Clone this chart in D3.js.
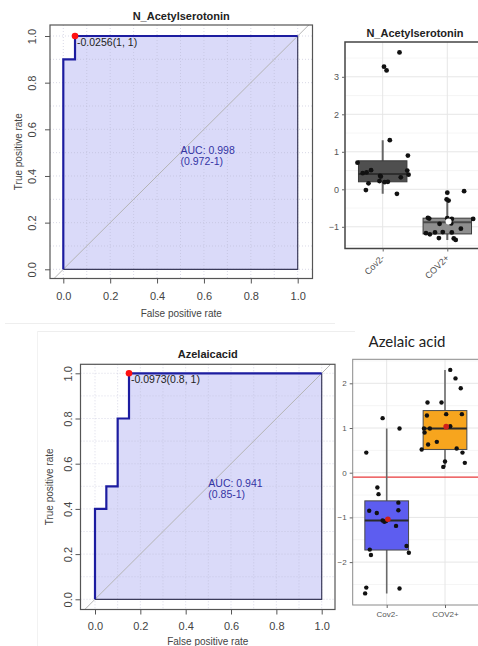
<!DOCTYPE html>
<html>
<head>
<meta charset="utf-8">
<script src="https://cdn.jsdelivr.net/npm/d3@7/dist/d3.min.js"></script>
<style>
  body { margin: 0; background: #fff; }
  svg { display: block; }
</style>
</head>
<body>
<svg id="fig" width="478" height="646"></svg>
<script>
// ---------- ROC curves ----------
const rocTicks = [0, 0.2, 0.4, 0.6, 0.8, 1];
const rocGrid = d3.range(0, 11).map(i => i / 10);

const nasTitle = "N_Acetylserotonin";
const nasFpr = [0, 0, 0.05, 0.05, 1];
const nasTpr = [0, 0.9, 0.9, 1, 1];
const nasCut = [0.05, 1];
const nasCutLabel = "-0.0256(1, 1)";
const nasAuc = ["AUC: 0.998", "(0.972-1)"];

const azTitle = "Azelaicacid";
const azFpr = [0, 0, 0.05, 0.05, 0.1, 0.1, 0.15, 0.15, 1];
const azTpr = [0, 0.4, 0.4, 0.5, 0.5, 0.8, 0.8, 1, 1];
const azCut = [0.15, 1];
const azCutLabel = "-0.0973(0.8, 1)";
const azAuc = ["AUC: 0.941", "(0.85-1)"];

// ---------- Box plots ----------
const groups = ["Cov2-", "COV2+"];

// box stats per group: [lower whisker, Q1, median, Q3, upper whisker]
const nasStats = [[-0.12, 0.20, 0.41, 0.76, 1.31], [-1.35, -1.19, -0.88, -0.77, -0.30]];
const nasValues = [
  [3.65, 3.27, 3.17, 1.31, 0.90, 0.71, 0.43, 0.45, 0.51, 0.36, 0.34, 0.16, -0.02, 0.22, 0.19, 0.20, 0.32, 0.50, 0.39, -0.12],
  [-0.09, -0.05, -0.27, -0.30, -0.76, -0.78, -0.77, -0.79, -0.79, -0.92, -0.91, -1.05, -1.17, -1.20, -1.15, -1.30, -1.14, -1.15, -1.31, -1.35]
];
// horizontal jitter, in category widths
const nasJitter = [
  [0.26, 0.02, 0.06, 0.11, 0.39, -0.39, -0.31, -0.25, -0.18, -0.04, -0.03, -0.22, -0.26, -0.05, 0.03, 0.08, 0.28, 0.38, 0.40, 0.22],
  [0.00, 0.26, -0.01, 0.02, -0.30, -0.28, 0.00, 0.07, 0.40, -0.12, 0.06, 0.21, -0.33, -0.27, -0.19, -0.13, -0.07, 0.07, 0.10, 0.13]
];
const nasMeans = [null, -0.86];
const nasTicks = [-1, 0, 1, 2, 3];

const azBoxTitle = "Azelaic acid";
const azStats = [[-2.70, -1.73, -1.07, -0.63, 0.99], [0.13, 0.52, 0.99, 1.39, 2.30]];
const azValues = [
  [1.22, 0.99, 0.45, -0.33, -0.48, -0.85, -0.90, -0.67, -0.84, -1.07, -1.10, -1.08, -1.19, -1.72, -1.84, -1.64, -1.79, -2.57, -2.70, -2.59],
  [2.30, 2.11, 1.89, 1.57, 1.57, 1.28, 1.31, 1.31, 0.99, 0.99, 1.04, 0.90, 0.63, 0.69, 0.52, 0.54, 0.45, 0.22, 0.25, 0.13]
];
const azJitter = [
  [-0.07, 0.22, -0.35, -0.16, -0.14, -0.30, -0.17, 0.20, 0.20, -0.07, -0.04, -0.01, 0.16, -0.29, -0.27, 0.34, 0.38, -0.35, -0.37, 0.22],
  [0.09, 0.18, 0.27, -0.30, -0.06, -0.31, 0.02, 0.29, -0.36, -0.26, 0.09, -0.35, -0.29, -0.14, -0.40, 0.20, 0.30, 0.34, 0.00, -0.03]
];
const azMeans = [-1.04, 1.03];
const azCutoff = -0.0973;
const azTicks = [-2, -1, 0, 1, 2];

const svg = d3.select("#fig");
const FONT = "'Liberation Sans', Arial, Helvetica, sans-serif";

// faint outlines of the figure tiles
svg.append("line").attr("x1", 5).attr("x2", 335).attr("y1", 323.5).attr("y2", 323.5)
  .attr("stroke", "#eeeeee");
svg.append("line").attr("x1", 37).attr("x2", 355).attr("y1", 331.5).attr("y2", 331.5)
  .attr("stroke", "#eeeeee");
svg.append("line").attr("x1", 37.5).attr("x2", 37.5).attr("y1", 331).attr("y2", 646)
  .attr("stroke", "#f2f2f2");

function rocPanel(o) {
  const g = svg.append("g");
  const x = d3.scaleLinear().domain([0, 1]).range(o.xr);
  const y = d3.scaleLinear().domain([0, 1]).range(o.yr);
  const f = o.frame;
  const clipId = "clip" + o.id;
  g.append("clipPath").attr("id", clipId).append("rect")
    .attr("x", f.l).attr("y", f.t).attr("width", f.r - f.l).attr("height", f.b - f.t);

  const inner = g.append("g").attr("clip-path", `url(#${clipId})`);

  // area under the curve
  const pts = o.fpr.map((v, i) => [x(v), y(o.tpr[i])]);
  const poly = pts.concat([[x(1), y(0)], [x(0), y(0)]]);
  inner.append("path")
    .attr("d", d3.line()(poly) + "Z")
    .attr("fill", "#dadaf9");

  // dotted grid
  rocGrid.forEach(v => {
    inner.append("line").attr("x1", x(v)).attr("x2", x(v)).attr("y1", f.t).attr("y2", f.b)
      .attr("stroke", "#b9b9d4").attr("stroke-opacity", 0.55).attr("stroke-dasharray", "1,2");
    inner.append("line").attr("y1", y(v)).attr("y2", y(v)).attr("x1", f.l).attr("x2", f.r)
      .attr("stroke", "#b9b9d4").attr("stroke-opacity", 0.55).attr("stroke-dasharray", "1,2");
  });

  // chance diagonal
  const lo = Math.min(x.invert(f.l), y.invert(f.b)) - 0.1;
  const hi = Math.max(x.invert(f.r), y.invert(f.t)) + 0.1;
  inner.append("line")
    .attr("x1", x(lo)).attr("y1", y(lo)).attr("x2", x(hi)).attr("y2", y(hi))
    .attr("stroke", "#b4b4b4").attr("stroke-width", 1);

  // polygon edges along fpr = 1 and tpr = 0
  inner.append("path")
    .attr("d", d3.line()([[x(1), y(1)], [x(1), y(0)], [x(0), y(0)]]))
    .attr("fill", "none").attr("stroke", "#3a3a5a").attr("stroke-width", 1.2);

  // ROC curve
  inner.append("path")
    .attr("d", d3.line()(pts))
    .attr("fill", "none").attr("stroke", "#1c1ca0").attr("stroke-width", 2.2)
    .attr("stroke-linejoin", "miter");

  // frame
  g.append("rect").attr("x", f.l).attr("y", f.t).attr("width", f.r - f.l).attr("height", f.b - f.t)
    .attr("fill", "none").attr("stroke", "#555").attr("stroke-width", 1.2);

  // axes
  const xa = g.append("g").attr("transform", `translate(0,${f.b})`)
    .call(d3.axisBottom(x).tickValues(rocTicks).tickFormat(d3.format(".1f")).tickSize(5).tickSizeOuter(0));
  xa.select(".domain").remove();
  xa.selectAll("line").attr("stroke", "#555");
  xa.selectAll("text").attr("font-family", FONT).attr("font-size", 11).attr("fill", "#444")
    .attr("dy", null).attr("y", o.xTickY - f.b);

  const ya = g.append("g").attr("transform", `translate(${f.l},0)`)
    .call(d3.axisLeft(y).tickValues(rocTicks).tickFormat(d3.format(".1f")).tickSize(5).tickSizeOuter(0));
  ya.select(".domain").remove();
  ya.selectAll("line").attr("stroke", "#555");
  ya.selectAll("text").attr("font-family", FONT).attr("font-size", 11).attr("fill", "#444")
    .attr("x", null).attr("dy", null).attr("text-anchor", "middle")
    .attr("transform", `translate(${o.yTickX - f.l},0) rotate(-90)`);

  // titles
  g.append("text").attr("x", (f.l + f.r) / 2).attr("y", o.titleY).attr("text-anchor", "middle")
    .attr("font-family", FONT).attr("font-size", 11).attr("font-weight", "bold").attr("fill", "#222")
    .text(o.title);
  g.append("text").attr("x", (f.l + f.r) / 2).attr("y", o.xTitleY).attr("text-anchor", "middle")
    .attr("font-family", FONT).attr("font-size", 10).attr("fill", "#444").text("False positive rate");
  g.append("text").attr("transform", `translate(${o.yTitleX},${(f.t + f.b) / 2}) rotate(-90)`)
    .attr("text-anchor", "middle")
    .attr("font-family", FONT).attr("font-size", 10).attr("fill", "#444").text("True positive rate");

  // AUC annotation
  const aucX = x(0.5);
  o.auc.forEach((t, i) => {
    g.append("text").attr("x", aucX).attr("y", y(0.5) + 1 + i * 11)
      .attr("font-family", FONT).attr("font-size", 10.5).attr("fill", "#3434a4").text(t);
  });

  // best threshold
  g.append("circle").attr("cx", x(o.cut[0])).attr("cy", y(o.cut[1])).attr("r", 3.3).attr("fill", "#ff1010");
  g.append("text").attr("x", x(o.cut[0]) + 2).attr("y", y(o.cut[1]) + 10)
    .attr("font-family", FONT).attr("font-size", 10.5).attr("fill", "#222").text(o.cutLabel);
}

rocPanel({
  id: "a", title: nasTitle, fpr: nasFpr, tpr: nasTpr, cut: nasCut, cutLabel: nasCutLabel, auc: nasAuc,
  xr: [63.3, 297.7], yr: [269.3, 36], frame: { l: 50, r: 312.5, t: 25, b: 278.5 },
  xTickY: 300, yTickX: 35.5, titleY: 19.5, xTitleY: 316.5, yTitleX: 21.5
});
rocPanel({
  id: "b", title: azTitle, fpr: azFpr, tpr: azTpr, cut: azCut, cutLabel: azCutLabel, auc: azAuc,
  xr: [95, 321.7], yr: [599.3, 373.3], frame: { l: 80.5, r: 335, t: 364.3, b: 609.5 },
  xTickY: 630, yTickX: 72, titleY: 357.5, xTitleY: 645, yTitleX: 53
});

function boxPanel(o) {
  const g = svg.append("g");
  const f = o.frame;
  const y = d3.scaleLinear().domain([0, 1]).range(o.yr);
  const x = d3.scalePoint().domain(groups).range(o.xr);
  const unit = o.xr[1] - o.xr[0];
  const half = 0.375 * unit;

  const clipId = "clip" + o.id;
  g.append("clipPath").attr("id", clipId).append("rect")
    .attr("x", f.l).attr("y", f.t).attr("width", f.r - f.l).attr("height", f.b - f.t);
  const inner = g.append("g").attr("clip-path", `url(#${clipId})`);

  inner.append("rect").attr("x", f.l).attr("y", f.t).attr("width", f.r - f.l).attr("height", f.b - f.t)
    .attr("fill", "#fff");

  // grid: minor halves, major integers, one vertical per group
  const lo = Math.ceil(y.invert(f.b) * 2) / 2, hi = y.invert(f.t);
  d3.range(lo, hi, 0.5).forEach(v => {
    const major = Math.abs(v - Math.round(v)) < 1e-9;
    inner.append("line").attr("x1", f.l).attr("x2", f.r).attr("y1", y(v)).attr("y2", y(v))
      .attr("stroke", major ? "#e6e6e6" : "#f3f3f3").attr("stroke-width", major ? 1 : 0.8);
  });
  groups.forEach(gr => {
    inner.append("line").attr("x1", x(gr)).attr("x2", x(gr)).attr("y1", f.t).attr("y2", f.b)
      .attr("stroke", "#e6e6e6");
  });

  if (o.cutoff != null) {
    inner.append("line").attr("x1", f.l).attr("x2", f.r).attr("y1", y(o.cutoff)).attr("y2", y(o.cutoff))
      .attr("stroke", "#e8393a").attr("stroke-width", 1.3);
  }

  groups.forEach((gr, i) => {
    const s = o.stats[i];
    const cx = x(gr);
    inner.append("line").attr("x1", cx).attr("x2", cx).attr("y1", y(s[0])).attr("y2", y(s[4]))
      .attr("stroke", o.whisker).attr("stroke-width", o.whiskerW);
    inner.append("rect").attr("x", cx - half).attr("width", 2 * half)
      .attr("y", y(s[3])).attr("height", y(s[1]) - y(s[3]))
      .attr("fill", o.fills[i]).attr("stroke", o.boxStroke).attr("stroke-width", 1);
    inner.append("line").attr("x1", cx - half).attr("x2", cx + half).attr("y1", y(s[2])).attr("y2", y(s[2]))
      .attr("stroke", o.medians[i]).attr("stroke-width", 2);
  });

  groups.forEach((gr, i) => {
    inner.selectAll(null).data(o.values[i]).join("circle")
      .attr("cx", (d, j) => x(gr) + o.jitter[i][j] * unit)
      .attr("cy", d => y(d))
      .attr("r", o.r).attr("fill", "#111");
    if (o.means[i] != null) {
      inner.append("circle").attr("cx", x(gr) + 0.02 * unit).attr("cy", y(o.means[i]))
        .attr("r", o.r + 0.6).attr("fill", o.meanColor);
    }
  });

  g.append("rect").attr("x", f.l).attr("y", f.t).attr("width", f.r - f.l).attr("height", f.b - f.t)
    .attr("fill", "none").attr("stroke", o.border).attr("stroke-width", o.borderW);

  const ya = g.append("g").attr("transform", `translate(${f.l},0)`)
    .call(d3.axisLeft(y).tickValues(o.ticks).tickFormat(d3.format("d")).tickSize(3).tickSizeOuter(0));
  ya.select(".domain").remove();
  ya.selectAll("line").attr("stroke", "#666");
  ya.selectAll("text").attr("font-family", FONT).attr("font-size", o.tickFont).attr("fill", "#555");

  const xa = g.append("g").attr("transform", `translate(0,${f.b})`)
    .call(d3.axisBottom(x).tickSize(3).tickSizeOuter(0));
  xa.select(".domain").remove();
  xa.selectAll("line").attr("stroke", "#666");
  const xt = xa.selectAll("text").attr("font-family", FONT).attr("font-size", o.tickFont).attr("fill", "#555");
  if (o.rotate) {
    xt.attr("text-anchor", "end").attr("dy", null).attr("y", 0)
      .attr("transform", "translate(2,10) rotate(-45)");
  }

  g.append("text").attr("x", o.titleX).attr("y", o.titleY).attr("text-anchor", "middle")
    .attr("font-family", o.titleFont).attr("font-size", o.titleSize)
    .attr("font-weight", o.titleWeight).attr("fill", "#222").text(o.title);
}

boxPanel({
  id: "c", title: nasTitle, stats: nasStats, values: nasValues, jitter: nasJitter, means: nasMeans,
  ticks: nasTicks, frame: { l: 345, r: 490, t: 42, b: 248.5 }, yr: [189.3, 151.8], xr: [382.7, 447.3],
  fills: ["#4f4f4f", "#8e8e8e"], medians: ["#2e2e2e", "#4a4a4a"], boxStroke: "#3a3a3a",
  whisker: "#666", whiskerW: 2, r: 2.4, meanColor: "#ffffff",
  border: "#444", borderW: 1.5, tickFont: 9, rotate: true,
  titleX: 415, titleY: 36.5, titleFont: FONT, titleSize: 11, titleWeight: "bold"
});
boxPanel({
  id: "d", title: azBoxTitle, stats: azStats, values: azValues, jitter: azJitter, means: azMeans,
  cutoff: azCutoff, ticks: azTicks, frame: { l: 352.7, r: 490, t: 359.3, b: 605 }, yr: [472.7, 428],
  xr: [386.7, 445],
  fills: ["#5d5df0", "#f7a51e"], medians: ["#2a2a2a", "#2a2a2a"], boxStroke: "#4a4a4a",
  whisker: "#6a6a6a", whiskerW: 1.6, r: 2.2, meanColor: "#d0201a",
  border: "#8a8a8a", borderW: 1, tickFont: 8, rotate: false,
  titleX: 407, titleY: 346.5, titleFont: "Lato, 'Open Sans', sans-serif", titleSize: 15, titleWeight: "normal"
});
</script>
</body>
</html>
